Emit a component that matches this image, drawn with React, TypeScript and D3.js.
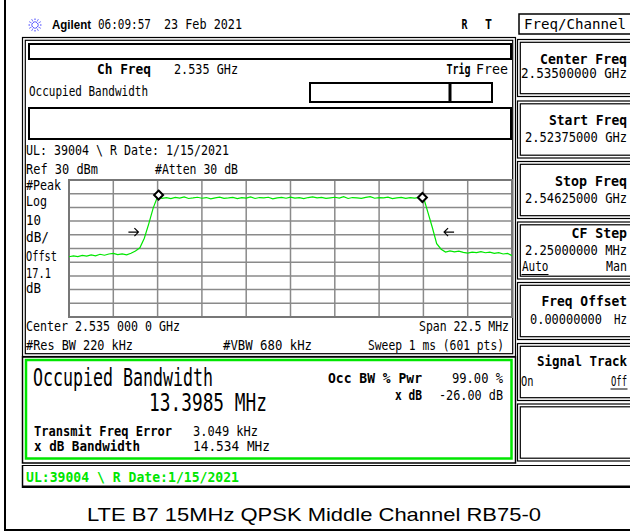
import React from "react";
import * as d3 from "d3";

// ---- measurement settings ----
const startFreqMHz = 2523.75;
const stopFreqMHz = 2546.25;
const centerFreqMHz = 2535.0;
const refLevelDbm = 30;
const dbPerDiv = 10;
const xDivisions = 10;
const yDivisions = 10;
const occBwMHz = 13.3985;
const xDbBwMHz = 14.534;

// ---- trace (dBm), 101 evenly spaced sweep points across the span ----
const traceLevels = [
  -26.0, -25.4, -25.9, -25.0, -25.6, -24.7, -25.3, -24.2, -24.9, -24.0,
  -23.6, -24.5, -23.9, -24.6, -23.5, -21.8, -19.5, -12.5, -2.0, 9.5,
  18.0, 16.6, 17.1, 16.4, 17.3, 16.8, 17.6, 16.5, 16.9, 17.4,
  16.7, 17.2, 16.3, 17.0, 17.5, 16.6, 16.9, 17.3, 16.4, 17.1,
  16.8, 17.6, 16.5, 17.2, 16.9, 17.4, 16.2, 17.0, 17.3, 16.7,
  17.5, 16.8, 17.1, 16.4, 17.2, 17.7, 16.9, 17.3, 16.6, 17.0,
  17.4, 16.8, 17.8, 16.5, 17.2, 17.0, 16.6, 17.3, 17.9, 16.7,
  17.1, 16.9, 17.5, 16.4, 17.0, 17.3, 16.6, 17.1, 16.8, 17.2,
  17.6, 6.5, -4.5, -16.5, -20.5, -22.6, -21.8, -22.4, -21.9, -22.8,
  -23.4, -22.6, -23.0, -22.3, -23.1, -22.7, -23.5, -23.0, -24.0, -23.6,
  -25.2,
];
const markerLevels = [19.0, 17.2];
const arrowLevel = -8;

// ---- soft keys ----
const softkeyTitles = ["Center Freq", "Start Freq", "Stop Freq", "CF Step", "Freq Offset", "Signal Track"];
const softkeyValues = ["2.53500000 GHz", "2.52375000 GHz", "2.54625000 GHz", "2.25000000 MHz"];

const MONO = "'DejaVu Sans Mono', 'Liberation Mono', monospace";
const SANS = "'Liberation Sans', Arial, sans-serif";
const GREEN = "#00e600";

function T(props: any) {
  const { x, y, w, s = 13.5, b = false, c = "#000", f = MONO, children } = props;
  return (
    <text
      x={x}
      y={y}
      fontSize={s}
      fontWeight={b ? "bold" : "normal"}
      fill={c}
      fontFamily={f}
      textLength={w}
      lengthAdjust="spacingAndGlyphs"
    >
      {children}
    </text>
  );
}

function DRect({ x, y, w, h, gap = 2.8, sw = 1.2 }: any) {
  return (
    <g fill="none" stroke="#000" strokeWidth={sw}>
      <rect x={x} y={y} width={w} height={h} />
      <rect x={x + gap} y={y + gap} width={w - 2 * gap} height={h - 2 * gap} />
    </g>
  );
}

export default function App() {
  const gx0 = 69, gx1 = 512, gy0 = 180, gy1 = 317;
  const xScale = d3.scaleLinear().domain([startFreqMHz, stopFreqMHz]).range([gx0, gx1]);
  const bottomLevel = refLevelDbm - dbPerDiv * yDivisions;
  const yScale = d3.scaleLinear().domain([bottomLevel, refLevelDbm]).range([gy1, gy0]);
  const span = stopFreqMHz - startFreqMHz;
  const n = traceLevels.length;
  const pts = traceLevels.map((v, i) => [startFreqMHz + (i * span) / (n - 1), v] as [number, number]);
  const line = d3
    .line<[number, number]>()
    .x((d) => xScale(d[0]))
    .y((d) => yScale(d[1]));

  const xGrid = d3.range(xDivisions + 1).map((i) => startFreqMHz + (i * span) / xDivisions);
  const yGrid = d3.range(yDivisions + 1).map((i) => refLevelDbm - i * dbPerDiv);

  const occEdges = [centerFreqMHz - occBwMHz / 2, centerFreqMHz + occBwMHz / 2];
  const xdbEdges = [centerFreqMHz - xDbBwMHz / 2, centerFreqMHz + xDbBwMHz / 2];
  const ay = yScale(arrowLevel);
  const la = xScale(xdbEdges[0]) - 9;
  const ra = xScale(xdbEdges[1]) + 10.5;

  const keyTops = [39.5, 101, 161.5, 222, 282.5, 343.5, 404];

  // star icon rays
  const rays = d3.range(12).map((i) => (i * Math.PI) / 6);

  return (
    <svg
      width={630}
      height={531}
      style={{ position: "absolute", left: 0, top: 0, background: "#fff" }}
    >
      <rect x={0} y={0} width={630} height={531} fill="#fff" />
      {/* outer frame */}
      <line x1={5} y1={0} x2={5} y2={531} stroke="#000" strokeWidth={2} />
      <line x1={4} y1={530} x2={630} y2={530} stroke="#000" strokeWidth={2} />

      {/* header */}
      <g stroke="#3a3aff" strokeWidth={1}>
        {rays.map((a, i) => (
          <line
            key={i}
            x1={35 + 2.5 * Math.cos(a)}
            y1={25 + 2.5 * Math.sin(a)}
            x2={35 + 7 * Math.cos(a)}
            y2={25 + 7 * Math.sin(a)}
            strokeDasharray="1.5 1"
          />
        ))}
      </g>
      <T x={52} y={29} w={39} s={12.5} b f={SANS}>Agilent</T>
      <T x={98} y={29} w={53}>06:09:57</T>
      <T x={164} y={29} w={78}>23 Feb 2021</T>
      <T x={461.5} y={29} w={6} b>R</T>
      <T x={485} y={29} w={7} b>T</T>

      {/* Freq/Channel title */}
      <rect x={519} y={14} width={130} height={20} fill="none" stroke="#000" strokeWidth={1.5} />
      <T x={524} y={29} w={102} s={14}>Freq/Channel</T>

      {/* main frame */}
      <DRect x={22.5} y={37.5} w={493} h={319} />
      <rect x={29} y={44} width={482} height={15} fill="none" stroke="#000" strokeWidth={2} />
      <T x={97} y={74} w={54} b>Ch Freq</T>
      <T x={174} y={74} w={64}>2.535 GHz</T>
      <T x={446.5} y={74} w={24} b>Trig</T>
      <T x={476} y={74} w={32}>Free</T>
      <T x={29} y={96} w={119}>Occupied Bandwidth</T>
      <rect x={310} y={83} width={182} height={19} fill="none" stroke="#000" strokeWidth={2} />
      <line x1={450} y1={83} x2={450} y2={102} stroke="#000" strokeWidth={3} />
      <rect x={29} y={108} width={482} height={31} fill="none" stroke="#000" strokeWidth={2} />
      <T x={26} y={155} w={203}>UL: 39004 \ R Date: 1/15/2021</T>
      <T x={26} y={174} w={72}>Ref 30 dBm</T>
      <T x={155} y={174} w={83}>#Atten 30 dB</T>
      <T x={26} y={190} w={35}>#Peak</T>
      <T x={26} y={206} w={21}>Log</T>
      <T x={26} y={225} w={15}>10</T>
      <T x={26} y={242} w={23}>dB/</T>
      <T x={26} y={261} w={31}>Offst</T>
      <T x={26} y={278} w={25}>17.1</T>
      <T x={26} y={293} w={15}>dB</T>

      {/* grid */}
      <g stroke="#8a8a8a" strokeWidth={1.5}>
        {xGrid.map((f, i) => (
          <line key={"x" + i} x1={xScale(f)} y1={gy0} x2={xScale(f)} y2={gy1} />
        ))}
        {yGrid.map((v, i) => (
          <line key={"y" + i} x1={gx0} y1={yScale(v)} x2={gx1} y2={yScale(v)} />
        ))}
      </g>
      <rect x={gx0} y={gy0} width={gx1 - gx0} height={gy1 - gy0} fill="none" stroke="#777" strokeWidth={2} />

      {/* trace */}
      <path d={line(pts) || ""} fill="none" stroke={GREEN} strokeWidth={1.2} />

      {/* markers */}
      {occEdges.map((f, i) => {
        const cx = xScale(f);
        const cy = yScale(markerLevels[i]);
        return (
          <path
            key={i}
            d={`M${cx},${cy - 4.5}L${cx + 4.5},${cy}L${cx},${cy + 4.5}L${cx - 4.5},${cy}Z`}
            fill="#fff"
            stroke="#000"
            strokeWidth={2}
          />
        );
      })}
      <g stroke="#000" strokeWidth={1.2} fill="none">
        <path d={`M${la - 10},${ay}L${la},${ay}M${la - 4},${ay - 4}L${la},${ay}L${la - 4},${ay + 4}`} />
        <path d={`M${ra + 10},${ay}L${ra},${ay}M${ra + 4},${ay - 4}L${ra},${ay}L${ra + 4},${ay + 4}`} />
      </g>

      <T x={26} y={331} w={154}>Center 2.535 000 0 GHz</T>
      <T x={419} y={331} w={90}>Span 22.5 MHz</T>
      <T x={26} y={350} w={107}>#Res BW 220 kHz</T>
      <T x={223} y={350} w={89}>#VBW 680 kHz</T>
      <T x={368} y={350} w={136}>Sweep 1 ms (601 pts)</T>

      {/* result box */}
      <rect x={22.5} y={357} width={493} height={106} fill="none" stroke="#000" strokeWidth={1.5} />
      <rect x={26} y={360} width={485.5} height={98.5} fill="none" stroke={GREEN} strokeWidth={2.5} />
      <T x={33} y={386} w={180} s={24}>Occupied Bandwidth</T>
      <T x={149} y={411} w={118} s={24}>13.3985 MHz</T>
      <T x={34} y={436} w={138} b>Transmit Freq Error</T>
      <T x={193} y={436} w={65}>3.049 kHz</T>
      <T x={34} y={451} w={106} b>x dB Bandwidth</T>
      <T x={193} y={451} w={77}>14.534 MHz</T>
      <T x={328} y={383} w={94} b>Occ BW % Pwr</T>
      <T x={452} y={383} w={51}>99.00 %</T>
      <T x={395} y={400} w={27} b>x dB</T>
      <T x={439} y={400} w={64}>-26.00 dB</T>

      {/* status line */}
      <line x1={22} y1={465.5} x2={630} y2={465.5} stroke="#000" strokeWidth={1.2} />
      <line x1={22.5} y1={465} x2={22.5} y2={488} stroke="#000" strokeWidth={1.5} />
      <line x1={22} y1={486.8} x2={630} y2={486.8} stroke="#000" strokeWidth={2.5} />
      <T x={26} y={482} w={213} b c={GREEN}>UL:39004 \ R Date:1/15/2021</T>

      {/* soft keys */}
      {keyTops.map((t, i) => (
        <DRect key={i} x={517.5} y={t} w={130} h={57} />
      ))}
      <T x={540} y={64} w={87} s={14.5} b>{softkeyTitles[0]}</T>
      <T x={521} y={78} w={106}>{softkeyValues[0]}</T>
      <T x={549} y={125} w={78} s={14.5} b>{softkeyTitles[1]}</T>
      <T x={525} y={142} w={102}>{softkeyValues[1]}</T>
      <T x={555} y={186} w={72} s={14.5} b>{softkeyTitles[2]}</T>
      <T x={525} y={203} w={102}>{softkeyValues[2]}</T>
      <T x={571.5} y={238} w={55.5} s={14.5} b>{softkeyTitles[3]}</T>
      <T x={525} y={255} w={102}>{softkeyValues[3]}</T>
      <T x={522} y={271} w={26.5}>Auto</T>
      <line x1={521.5} y1={274.5} x2={548.5} y2={274.5} stroke="#000" strokeWidth={1} />
      <T x={606} y={271} w={21}>Man</T>
      <T x={541.5} y={306} w={85.5} s={14.5} b>{softkeyTitles[4]}</T>
      <T x={530} y={324} w={72}>0.00000000</T>
      <T x={614} y={324} w={13}>Hz</T>
      <T x={537} y={366} w={90} s={14.5} b>{softkeyTitles[5]}</T>
      <T x={521} y={386} w={12.5}>On</T>
      <T x={611} y={386} w={16}>Off</T>
      <line x1={610.5} y1={389} x2={627.5} y2={389} stroke="#000" strokeWidth={1} />

      {/* caption */}
      <T x={87} y={521} w={454} s={19} f={SANS}>LTE B7 15MHz QPSK Middle Channel RB75-0</T>
    </svg>
  );
}
